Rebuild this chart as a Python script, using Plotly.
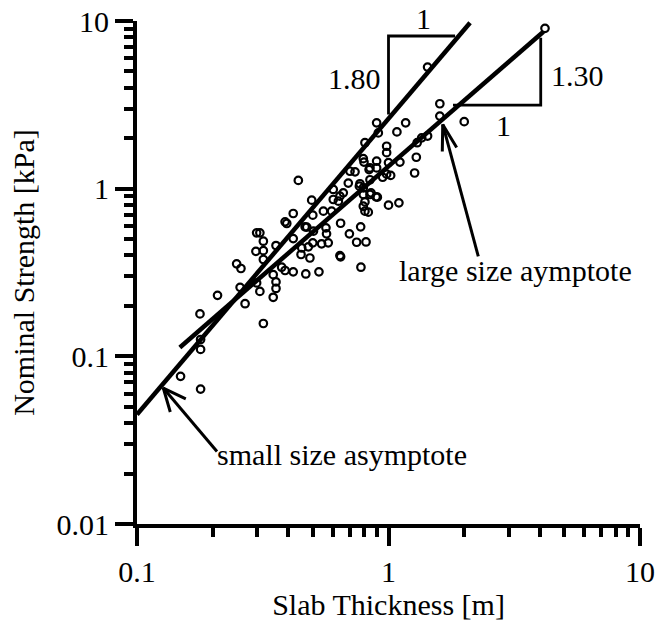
import numpy as np
import plotly.graph_objects as go

# ---------------- data ----------------
thickness = [4.19, 1.43, 1.60, 1.60, 2.00, 0.897, 1.17, 1.08, 0.911, 0.806,
             1.43, 1.355, 1.30, 0.983, 0.983, 0.794, 1.29, 0.897, 1.11, 1.00,
             0.844, 0.897, 0.703, 0.736, 1.27, 1.02, 0.948, 0.844, 0.438, 0.692,
             0.766, 0.794, 0.603, 0.661, 0.641, 0.794, 0.844, 0.903, 0.495, 0.632,
             0.806, 1.00, 1.10, 0.794, 0.551, 0.594, 0.806, 0.831, 0.418, 0.500,
             0.388, 0.394, 0.645, 0.466, 0.473, 0.775, 0.564, 0.503, 0.299, 0.308,
             0.567, 0.699, 0.418, 0.318, 0.500, 0.576, 0.542, 0.747, 0.814, 0.357,
             0.452, 0.480, 0.297, 0.318, 0.449, 0.487, 0.641, 0.645, 0.318, 0.249,
             0.259, 0.376, 0.388, 0.418, 0.469, 0.529, 0.777, 0.348, 0.299, 0.357,
             0.257, 0.357, 0.308, 0.348, 0.209, 0.269, 0.178, 0.318, 0.179, 0.179,
             0.149, 0.179, 0.852, 0.892, 0.770, 0.837, 0.799, 0.983, 0.603]
strength = [9.04, 5.31, 3.21, 2.71, 2.51, 2.47, 2.47, 2.18, 2.15, 1.88,
            2.06, 2.01, 1.88, 1.79, 1.64, 1.51, 1.54, 1.46, 1.44, 1.43,
            1.33, 1.33, 1.27, 1.26, 1.24, 1.20, 1.17, 1.13, 1.12, 1.08,
            1.035, 1.01, 0.989, 0.944, 0.902, 0.923, 0.923, 0.890, 0.854, 0.842,
            0.834, 0.797, 0.823, 0.786, 0.734, 0.734, 0.734, 0.724, 0.711, 0.695,
            0.634, 0.620, 0.622, 0.592, 0.590, 0.592, 0.584, 0.558, 0.545, 0.545,
            0.538, 0.538, 0.504, 0.486, 0.475, 0.475, 0.469, 0.479, 0.481, 0.458,
            0.443, 0.450, 0.423, 0.427, 0.405, 0.386, 0.399, 0.392, 0.378, 0.356,
            0.334, 0.340, 0.325, 0.319, 0.310, 0.319, 0.340, 0.307, 0.274, 0.278,
            0.258, 0.254, 0.244, 0.225, 0.231, 0.206, 0.179, 0.157, 0.126, 0.110,
            0.076, 0.0638, 0.944, 0.894, 1.07, 1.30, 1.44, 1.22, 0.862]

# asymptotes (end points)
small_asym_x = [0.1, 2.11]
small_asym_y = [0.045, 9.77]
large_asym_x = [0.148, 4.13]
large_asym_y = [0.113, 8.63]

# slope triangles
tri1_x = [1.0, 1.0, 1.84]
tri1_y = [2.77, 8.14, 8.14]
tri2_x = [1.805, 4.03, 4.03]
tri2_y = [3.15, 3.15, 7.95]

# arrows: tip and tail
arrow_small_tip = (0.1272, 0.0647)
arrow_small_tail = (0.208, 0.0271)
arrow_large_tip = (1.643, 2.416)
arrow_large_tail = (2.275, 0.395)

x_ticks = [0.1, 1, 10]
x_ticktext = ["0.1", "1", "10"]
y_ticks = [0.01, 0.1, 1, 10]
y_ticktext = ["0.01", "0.1", "1", "10"]
x_minor = [m * d for d in (0.1, 1) for m in range(2, 10)]
y_minor = [m * d for d in (0.01, 0.1, 1) for m in range(2, 10)]

# ---------------- layout geometry ----------------
W, H = 672, 621
ML, MR, MT, MB = 137, 32, 21, 97
XR = [-1, 1]
YR = [-2, 1]
sx = (W - ML - MR) / (XR[1] - XR[0])
sy = (H - MT - MB) / (YR[1] - YR[0])

FONT = "Liberation Serif, Times New Roman, serif"
BLACK = "black"

fig = go.Figure()

fig.add_trace(go.Scatter(
    x=thickness, y=strength, mode="markers",
    marker=dict(symbol="circle-open", size=7.5, color=BLACK, line=dict(width=2.2, color=BLACK)),
    showlegend=False, hoverinfo="x+y"))

fig.add_trace(go.Scatter(x=small_asym_x, y=small_asym_y, mode="lines",
                         line=dict(color=BLACK, width=4.5), showlegend=False))
fig.add_trace(go.Scatter(x=large_asym_x, y=large_asym_y, mode="lines",
                         line=dict(color=BLACK, width=4.5), showlegend=False))

fig.add_trace(go.Scatter(x=tri1_x, y=tri1_y, mode="lines",
                         line=dict(color=BLACK, width=2.8), showlegend=False))
fig.add_trace(go.Scatter(x=tri2_x, y=tri2_y, mode="lines",
                         line=dict(color=BLACK, width=2.8), showlegend=False))


def arrow(tip, tail, ang_deg=20, length=26):
    tx, ty = np.log10(tip[0]), np.log10(tip[1])
    ux, uy = np.log10(tail[0]), np.log10(tail[1])
    dx, dy = (ux - tx) * sx, (uy - ty) * sy
    n = np.hypot(dx, dy)
    dx, dy = dx / n, dy / n
    pts = []
    for s in (1, -1):
        a = np.radians(ang_deg) * s
        vx = dx * np.cos(a) - dy * np.sin(a)
        vy = dx * np.sin(a) + dy * np.cos(a)
        pts.append((10 ** (tx + vx * length / sx), 10 ** (ty + vy * length / sy)))
    hx = [pts[0][0], tip[0], pts[1][0]]
    hy = [pts[0][1], tip[1], pts[1][1]]
    fig.add_trace(go.Scatter(x=[tail[0], tip[0]], y=[tail[1], tip[1]], mode="lines",
                             line=dict(color=BLACK, width=3), showlegend=False))
    fig.add_trace(go.Scatter(x=hx, y=hy, mode="lines",
                             line=dict(color=BLACK, width=3), showlegend=False))


arrow(arrow_small_tip, arrow_small_tail, 24, 25)
arrow(arrow_large_tip, arrow_large_tail, 16, 27)


def label(text, x, y, xanchor="center", size=30):
    # placed in paper coordinates so labels just outside the axis range still show
    px = (np.log10(x) - XR[0]) / (XR[1] - XR[0])
    py = (np.log10(y) - YR[0]) / (YR[1] - YR[0])
    fig.add_annotation(x=px, y=py, xref="paper", yref="paper", text=text,
                       showarrow=False, xanchor=xanchor, yanchor="middle",
                       font=dict(family=FONT, size=size, color=BLACK))


label("1", 1.384, 10.28)
label("1.80", 0.95, 4.51, "right")
label("1.30", 4.34, 4.76, "left")
label("1", 2.853, 2.366)
label("large size aymptote", 1.081, 0.327, "left")
label("small size asymptote", 0.204, 0.0258, "left")

axis_common = dict(
    type="log", showline=True, linecolor=BLACK, linewidth=4,
    ticks="outside", ticklen=18, tickwidth=3.5, tickcolor=BLACK,
    showgrid=False, zeroline=False, mirror=False, automargin=False,
    tickfont=dict(family=FONT, size=30, color=BLACK),
)

fig.update_layout(
    width=W, height=H,
    margin=dict(l=ML, r=MR, t=MT, b=MB),
    paper_bgcolor="white", plot_bgcolor="white",
    font=dict(family=FONT, size=30, color=BLACK),
    xaxis=dict(range=XR, tickmode="array", tickvals=x_ticks, ticktext=x_ticktext,
               minor=dict(tickmode="array", tickvals=x_minor, ticks="outside", ticklen=9,
                          tickwidth=3.5, tickcolor=BLACK, showgrid=False),
               title=dict(text="Slab Thickness [m]", standoff=8,
                          font=dict(family=FONT, size=30, color=BLACK)),
               **axis_common),
    yaxis=dict(range=YR, tickmode="array", tickvals=y_ticks, ticktext=y_ticktext,
               minor=dict(tickmode="array", tickvals=y_minor, ticks="outside", ticklen=9,
                          tickwidth=3.5, tickcolor=BLACK, showgrid=False),
               title=dict(text="Nominal Strength [kPa]", standoff=14,
                          font=dict(family=FONT, size=30, color=BLACK)),
               **axis_common),
)

fig.write_html(
    "out.html",
    config={"displayModeBar": False},
    post_script="document.body.style.margin='0';document.body.style.overflow='hidden';",
)
